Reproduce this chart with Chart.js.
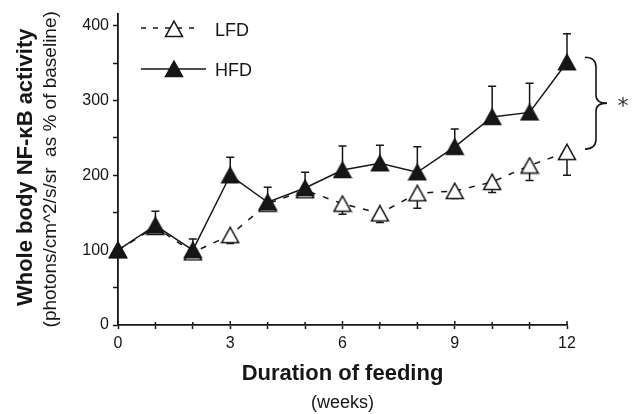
<!DOCTYPE html>
<html>
<head>
<meta charset="utf-8">
<script src="https://cdn.jsdelivr.net/npm/chart.js@4/dist/chart.umd.min.js"></script>
<style>
    html, body { margin: 0; padding: 0; background: #fff; }
    #wrap { width: 635px; height: 414px; }
</style>
</head>
<body>
<div id="wrap"><canvas id="nfkbChart"></canvas></div>
<script>
const weeks = [0, 1, 2, 3, 4, 5, 6, 7, 8, 9, 10, 11, 12];
const lfdMean = [100, 131, 97, 120, 162, 180, 162, 149, 176, 179, 191, 213, 231];
const lfdErr = [0, 5, 9, 11, 8, 9, 14, 12, 20, 10, 14, 20, 31];
const hfdMean = [100, 133, 100, 200, 164, 183, 207, 216, 204, 238, 278, 284, 351];
const hfdErr = [0, 19, 15, 24, 20, 21, 32, 24, 34, 24, 41, 39, 38];
const yTicks = [0, 50, 100, 150, 200, 250, 300, 350, 400];
const yLabels = [0, 100, 200, 300, 400];
const xLabels = [0, 3, 6, 9, 12];

const ink = "#161616";
const fontFamily = "'Liberation Sans', Arial, sans-serif";

// triangle markers centred on their bounding box
function makeTriangle(fill) {
    const c = document.createElement("canvas");
    c.width = 20;
    c.height = 18;
    const g = c.getContext("2d");
    g.beginPath();
    g.moveTo(10, 1.2);
    g.lineTo(1.5, 16.6);
    g.lineTo(18.5, 16.6);
    g.closePath();
    g.fillStyle = fill;
    g.fill();
    g.strokeStyle = ink;
    g.lineWidth = 1.5;
    g.lineJoin = "miter";
    g.stroke();
    return c;
}
const openTri = makeTriangle("#fff");
const filledTri = makeTriangle(ink);

// error bars: HFD upward, LFD downward
const errorBars = {
    id: "errorBars",
    beforeDatasetsDraw(chart) {
        const { ctx, scales: { x, y } } = chart;
        ctx.save();
        ctx.strokeStyle = ink;
        ctx.lineWidth = 1.5;
        [[hfdMean, hfdErr, 1], [lfdMean, lfdErr, -1]].forEach(([m, e, dir]) => {
            weeks.forEach((w, i) => {
                if (!e[i]) return;
                const px = x.getPixelForValue(w);
                const y0 = y.getPixelForValue(m[i]);
                const y1 = y.getPixelForValue(m[i] + dir * e[i]);
                ctx.beginPath();
                ctx.moveTo(px, y0);
                ctx.lineTo(px, y1);
                ctx.moveTo(px - 4, y1);
                ctx.lineTo(px + 4, y1);
                ctx.stroke();
            });
        });
        // small tick stubs above the x axis
        weeks.forEach(w => {
            const px = x.getPixelForValue(w);
            ctx.beginPath();
            ctx.moveTo(px, y.bottom);
            ctx.lineTo(px, y.bottom - (xLabels.includes(w) ? 4 : 3));
            ctx.stroke();
        });
        ctx.restore();
    }
};

// titles, legend, bracket and asterisk
const decorations = {
    id: "decorations",
    afterDraw(chart) {
        const { ctx, chartArea: area, scales: { x, y } } = chart;
        const midY = (area.top + area.bottom) / 2;
        const midX = (area.left + area.right) / 2;
        ctx.save();
        ctx.fillStyle = ink;
        ctx.textAlign = "center";
        ctx.textBaseline = "alphabetic";

        ctx.font = "bold 22px " + fontFamily;
        ctx.fillText("Duration of feeding", midX, 380);
        ctx.font = "18px " + fontFamily;
        ctx.fillText("(weeks)", midX, 408);

        ctx.save();
        ctx.translate(32, midY - 2);
        ctx.rotate(-Math.PI / 2);
        ctx.font = "bold 22px " + fontFamily;
        ctx.fillText("Whole body NF-\u03baB activity", 0, 0);
        ctx.restore();
        ctx.save();
        ctx.translate(56, midY);
        ctx.rotate(-Math.PI / 2);
        ctx.font = "19px " + fontFamily;
        ctx.fillText("(photons/cm^2/s/sr  as % of baseline)", 0, 0);
        ctx.restore();

        // legend
        ctx.strokeStyle = ink;
        ctx.lineWidth = 1.5;
        ctx.setLineDash([5, 7]);
        ctx.beginPath();
        ctx.moveTo(141, 28);
        ctx.lineTo(197, 28);
        ctx.stroke();
        ctx.setLineDash([]);
        ctx.drawImage(openTri, 164, 20);
        ctx.beginPath();
        ctx.moveTo(141, 69);
        ctx.lineTo(206, 69);
        ctx.stroke();
        ctx.drawImage(filledTri, 164, 60);
        ctx.textAlign = "left";
        ctx.font = "18px " + fontFamily;
        ctx.fillText("LFD", 215, 36);
        ctx.fillText("HFD", 215, 76);

        // bracket between the week-12 points
        const top = y.getPixelForValue(hfdMean[12]) - 5;
        const bot = y.getPixelForValue(lfdMean[12]) - 3;
        const mid = (top + bot) / 2;
        const bx = x.right + 18;
        ctx.lineWidth = 1.6;
        ctx.beginPath();
        ctx.moveTo(bx, top);
        ctx.quadraticCurveTo(bx + 11, top, bx + 11, top + 10);
        ctx.lineTo(bx + 11, mid - 8);
        ctx.quadraticCurveTo(bx + 11, mid, bx + 22, mid);
        ctx.quadraticCurveTo(bx + 11, mid, bx + 11, mid + 8);
        ctx.lineTo(bx + 11, bot - 10);
        ctx.quadraticCurveTo(bx + 11, bot, bx, bot);
        ctx.stroke();
        ctx.fillStyle = "#333";
        ctx.font = "22px 'DejaVu Sans', sans-serif";
        ctx.textAlign = "center";
        ctx.textBaseline = "middle";
        ctx.fillText("*", bx + 38, mid + 4);
        ctx.restore();
    }
};

const ctx = document.getElementById("nfkbChart").getContext("2d");

new Chart(ctx, {
    type: "line",
    data: {
        datasets: [
            {
                label: "HFD",
                data: weeks.map((w, i) => ({ x: w, y: hfdMean[i] })),
                borderColor: ink,
                borderWidth: 1.5,
                pointStyle: filledTri,
                clip: false,
                order: 0
            },
            {
                label: "LFD",
                data: weeks.map((w, i) => ({ x: w, y: lfdMean[i] })),
                borderColor: ink,
                borderWidth: 1.5,
                borderDash: [6, 8],
                pointStyle: openTri,
                clip: false,
                order: 1
            }
        ]
    },
    options: {
        responsive: true,
        maintainAspectRatio: false,
        animation: false,
        events: [],
        layout: { padding: { left: 0, top: 13, right: 68, bottom: 0 } },
        plugins: {
            legend: { display: false },
            tooltip: { enabled: false }
        },
        scales: {
            x: {
                type: "linear",
                min: 0,
                max: 12,
                afterBuildTicks: axis => { axis.ticks = weeks.map(v => ({ value: v })); },
                afterFit: axis => { axis.height = 89; },
                ticks: {
                    color: ink,
                    padding: 5,
                    maxRotation: 0,
                    autoSkip: false,
                    font: { family: fontFamily, size: 16 },
                    callback: v => xLabels.includes(v) ? String(v) : ""
                },
                grid: { drawOnChartArea: false, color: ink, tickLength: 4, tickWidth: 1.5 },
                border: { display: true, color: ink, width: 1.8 }
            },
            y: {
                type: "linear",
                min: 0,
                max: 416,
                afterBuildTicks: axis => { axis.ticks = yTicks.map(v => ({ value: v })); },
                afterFit: axis => { axis.width = 118; },
                ticks: {
                    color: ink,
                    padding: 4,
                    autoSkip: false,
                    font: { family: fontFamily, size: 16 },
                    callback: v => yLabels.includes(v) ? String(v) : ""
                },
                grid: { drawOnChartArea: false, color: ink, tickLength: 5, tickWidth: 1.5 },
                border: { display: true, color: ink, width: 1.8 }
            }
        }
    },
    plugins: [errorBars, decorations]
});
</script>
</body>
</html>
